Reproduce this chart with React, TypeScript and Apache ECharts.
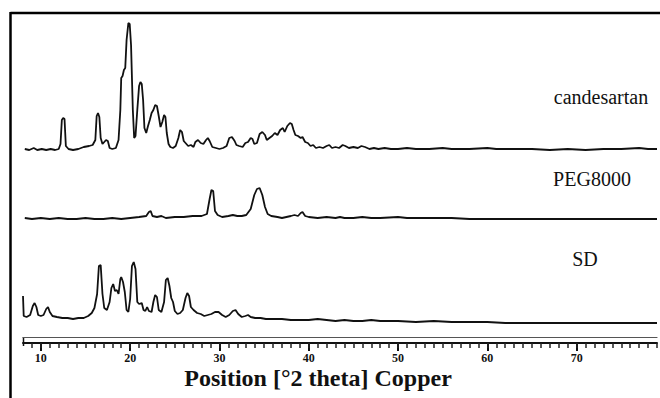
import React, { useEffect, useRef } from "react";
import * as echarts from "echarts";

// 2θ (degrees) and relative intensity
const candesartan: [number, number][] = [
  [8.2,1],[8.7,0],[9.2,2],[9.6,0],[10.1,1],[10.6,0],[11.1,1],[11.6,0],[12.0,1],[12.2,6],[12.35,30],[12.5,32],[12.65,31],[12.8,4],[13.1,1],[13.6,0],[14.2,1],[14.8,3],[15.4,4],[15.8,5],[16.1,10],[16.25,34],[16.4,37],[16.55,33],[16.7,12],[16.9,6],[17.1,8],[17.3,10],[17.5,9],[17.7,2],[18.0,1],[18.4,2],[18.7,10],[18.9,40],[19.0,72],[19.15,74],[19.3,80],[19.45,82],[19.6,110],[19.8,127],[19.95,126],[20.1,105],[20.3,40],[20.45,12],[20.6,14],[20.8,40],[21.0,64],[21.15,68],[21.3,66],[21.45,50],[21.6,22],[21.8,17],[22.0,24],[22.2,30],[22.4,37],[22.6,40],[22.8,45],[23.0,44],[23.2,34],[23.4,23],[23.6,28],[23.8,35],[23.95,33],[24.1,17],[24.3,6],[24.5,3],[24.8,2],[25.1,4],[25.4,12],[25.6,20],[25.8,18],[26.0,9],[26.2,7],[26.5,4],[26.8,5],[27.1,3],[27.3,8],[27.6,10],[27.9,7],[28.2,6],[28.5,10],[28.7,12],[28.9,9],[29.2,3],[29.6,2],[30.0,1],[30.4,2],[30.8,4],[31.1,12],[31.4,13],[31.7,9],[31.9,5],[32.2,4],[32.6,3],[32.9,7],[33.2,8],[33.5,12],[33.7,11],[33.9,6],[34.2,7],[34.5,16],[34.8,18],[35.1,15],[35.3,10],[35.6,12],[35.9,14],[36.2,17],[36.5,15],[36.8,20],[37.1,22],[37.3,18],[37.6,24],[37.9,27],[38.1,26],[38.3,20],[38.5,15],[38.8,14],[39.1,12],[39.3,13],[39.6,8],[39.9,7],[40.2,4],[40.5,5],[40.8,2],[41.2,3],[41.6,2],[42.0,4],[42.3,5],[42.6,2],[43.0,3],[43.4,2],[43.8,5],[44.1,4],[44.5,2],[45.0,3],[45.5,2],[45.9,4],[46.3,3],[46.8,1],[47.3,2],[47.8,1],[48.5,2],[49.2,1],[50.0,1],[51,2],[52,1],[53.5,1],[55,2],[56,1],[58,1],[60,2],[61,1],[63,1],[65,1],[67,0],[69,1],[71,0],[73,1],[75,1],[77,2],[78,1],[79,1]
];

const peg8000: [number, number][] = [
  [8.2,1],[9,0],[10,1],[11,0],[12,1],[13,0],[14,0],[15,1],[16,0],[17,0],[18,1],[19,0],[20,1],[21,2],[21.8,3],[22.1,7],[22.3,8],[22.5,3],[23,2],[23.5,3],[24,1],[25,2],[26,2],[27,3],[28,3],[28.6,5],[28.9,20],[29.1,29],[29.3,28],[29.5,8],[29.8,4],[30.3,2],[31,3],[31.5,4],[32,3],[32.5,3],[33,4],[33.5,10],[33.9,24],[34.2,30],[34.5,31],[34.8,24],[35.1,12],[35.4,5],[35.8,3],[36.5,2],[37,1],[37.5,2],[38,3],[38.4,4],[38.8,3],[39.1,6],[39.3,7],[39.6,3],[40,2],[41,1],[42,2],[43,1],[43.5,2],[44,1],[45,1],[46,2],[47,1],[48,1],[50,2],[51,1],[52,1],[54,1],[56,1],[58,0],[62,0],[66,0],[70,0],[75,0],[79,0]
];

const sd: [number, number][] = [
  [8.0,28],[8.08,8],[8.4,7],[8.8,9],[9.1,18],[9.3,21],[9.5,17],[9.7,9],[10.0,8],[10.3,9],[10.6,15],[10.8,17],[11.0,12],[11.3,8],[11.8,7],[12.4,6],[13.0,6],[13.6,5],[14.2,6],[14.8,6],[15.3,8],[15.7,11],[16.0,16],[16.3,30],[16.5,58],[16.7,59],[16.9,30],[17.1,16],[17.4,14],[17.7,22],[17.9,36],[18.1,40],[18.3,33],[18.5,34],[18.7,30],[18.9,45],[19.0,47],[19.2,42],[19.4,32],[19.6,14],[19.8,12],[20.0,25],[20.2,58],[20.4,62],[20.6,55],[20.8,22],[21.0,20],[21.3,21],[21.5,14],[21.7,13],[21.9,17],[22.1,13],[22.4,12],[22.6,22],[22.8,29],[23.0,27],[23.2,14],[23.5,12],[23.8,22],[24.0,44],[24.2,46],[24.4,38],[24.6,26],[24.8,22],[25.0,13],[25.3,10],[25.6,11],[25.9,14],[26.2,26],[26.4,31],[26.6,28],[26.8,17],[27.1,14],[27.5,11],[27.9,10],[28.3,8],[28.7,9],[29.1,10],[29.5,12],[29.9,12],[30.3,9],[30.7,7],[31.1,9],[31.5,13],[31.8,14],[32.1,10],[32.5,7],[32.9,8],[33.2,9],[33.5,7],[34.0,6],[34.6,6],[35.2,5],[36,5],[37,5],[38,4],[39,4],[40,4],[41,5],[42,4],[43,3],[44,4],[45,3],[46,3],[47,4],[48,3],[50,3],[52,2],[54,3],[56,2],[58,2],[60,2],[62,1],[64,1],[66,1],[68,1],[70,1],[72,1],[74,1],[76,1],[78,1],[79,1]
];

const seriesNames = ["candesartan", "PEG8000", "SD"];
const stackOffsets = [193, 124, 19];
const majorTicks = [10, 20, 30, 40, 50, 60, 70];
const minorTicks = [9,10,11,12,13,14,15,16,17,18,19,20,21,22,23,24,25,26,27,28,29,30,31,32,33,34,35,36,37,38,39,40,41,42,43,44,45,46,47,48,49,50,51,52,53,54,55,56,57,58,59,60,61,62,63,64,65,66,67,68,69,70,71,72,73,74,75,76,77,78,79];
const xTitle = "Position [°2 theta] Copper";

const SERIF = "'Liberation Serif', 'Times New Roman', serif";

export default function App() {
  const ref = useRef<HTMLDivElement>(null);
  useEffect(() => {
    if (!ref.current) return;
    const chart = echarts.init(ref.current, null, { renderer: "svg" });
    const all = [candesartan, peg8000, sd];
    chart.setOption({
      animation: false,
      backgroundColor: "#ffffff",
      grid: { left: 23, right: 3, top: 12, bottom: 55 },
      xAxis: [
        {
          type: "value", min: 8, max: 79, position: "bottom",
          axisLine: { show: true, lineStyle: { color: "#111", width: 2 } },
          axisTick: { show: true, customValues: majorTicks, length: 8, lineStyle: { color: "#111", width: 2 } },
          axisLabel: { customValues: majorTicks, margin: 9, color: "#111", fontFamily: SERIF, fontWeight: "bold", fontSize: 12 },
          splitLine: { show: false },
        },
        {
          type: "value", min: 8, max: 79, position: "bottom",
          axisLine: { show: false },
          axisTick: { show: true, customValues: minorTicks, length: 5, lineStyle: { color: "#222", width: 1.5 } },
          axisLabel: { show: false },
          splitLine: { show: false },
        },
        {
          type: "value", min: 8, max: 79, position: "bottom", offset: -6,
          axisLine: { show: true, lineStyle: { color: "#555", width: 1.2 } },
          axisTick: { show: false },
          axisLabel: { show: false },
          splitLine: { show: false },
        },
      ],
      yAxis: { type: "value", min: 0, max: 331, show: false },
      series: all.map((d, i) => ({
        name: seriesNames[i],
        type: "line",
        xAxisIndex: 0,
        showSymbol: false,
        symbol: "none",
        lineStyle: { color: "#111", width: 1.8 },
        data: d.map(([t, v]) => [t, v + stackOffsets[i]]),
      })),
      graphic: [
        { type: "line", shape: { x1: 10.5, y1: 13, x2: 660, y2: 13 }, style: { stroke: "#000", lineWidth: 2.5 } },
        { type: "line", shape: { x1: 10.5, y1: 12, x2: 10.5, y2: 398 }, style: { stroke: "#000", lineWidth: 2.5 } },
        { type: "line", shape: { x1: 23.5, y1: 337, x2: 23.5, y2: 346 }, style: { stroke: "#111", lineWidth: 1.5 } },
        { type: "text", x: 601, y: 97, style: { text: seriesNames[0], font: `20px ${SERIF}`, fill: "#111", textAlign: "center", textVerticalAlign: "middle" } },
        { type: "text", x: 592, y: 179, style: { text: seriesNames[1], font: `20px ${SERIF}`, fill: "#111", textAlign: "center", textVerticalAlign: "middle" } },
        { type: "text", x: 585, y: 259, style: { text: seriesNames[2], font: `20px ${SERIF}`, fill: "#111", textAlign: "center", textVerticalAlign: "middle" } },
        { type: "text", x: 318, y: 378, style: { text: xTitle, font: `bold 24px ${SERIF}`, fill: "#111", textAlign: "center", textVerticalAlign: "middle" } },
      ],
    });
    return () => chart.dispose();
  }, []);
  return <div ref={ref} style={{ position: "fixed", left: 0, top: 0, width: 660, height: 398 }} />;
}
